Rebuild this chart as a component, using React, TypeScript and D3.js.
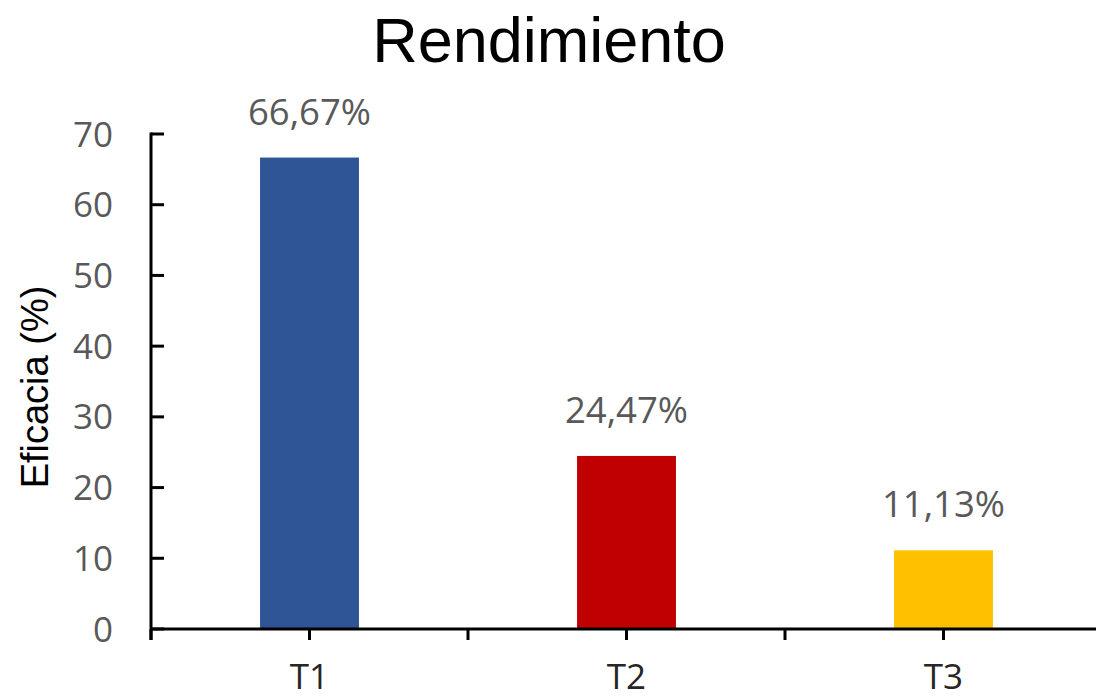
import React from "react";
import * as d3 from "d3";

const categories = ["T1", "T2", "T3"];
const values = [66.67, 24.47, 11.13];
const valueLabels = ["66,67%", "24,47%", "11,13%"];
const barColors = ["#2F5597", "#C00000", "#FFC000"];
const yTicks = [0, 10, 20, 30, 40, 50, 60, 70];

const W = 1096;
const H = 698;
const left = 151;
const right = 1102;
const bottom = 629;
const top = 134;

export default function App() {
  const x = d3.scaleBand<string>().domain(categories).range([left, right]).padding(0);
  const y = d3.scaleLinear().domain([0, 70]).range([bottom, top]);
  const bw = x.bandwidth() * 0.312;
  const boundaries = [left, ...categories.map((c) => (x(c) as number) + x.bandwidth())];
  const tickFont = "'Open Sans', 'DejaVu Sans', sans-serif";

  return (
    <svg
      width={W}
      height={H}
      style={{ position: "absolute", left: 0, top: 0, background: "#fff" }}
      viewBox={`0 0 ${W} ${H}`}
    >
      <rect x={0} y={0} width={W} height={H} fill="#fff" />
      <text
        x={549}
        y={62}
        textAnchor="middle"
        fontFamily="'Liberation Sans', Arial, sans-serif"
        fontSize={63}
        fill="#000"
      >
        Rendimiento
      </text>

      {/* bars */}
      {categories.map((c, i) => {
        const cx = (x(c) as number) + x.bandwidth() / 2;
        return (
          <g key={c}>
            <rect
              x={cx - bw / 2}
              y={y(values[i])}
              width={bw}
              height={bottom - y(values[i])}
              fill={barColors[i]}
            />
            <text
              x={cx}
              y={y(values[i]) - 33}
              textAnchor="middle"
              fontFamily={tickFont}
              fontSize={36.5}
              fill="#595959"
            >
              {valueLabels[i]}
            </text>
            <text
              x={cx}
              y={689}
              textAnchor="middle"
              fontFamily={tickFont}
              fontSize={35}
              fill="#262626"
            >
              {c}
            </text>
            <line x1={cx} x2={cx} y1={bottom} y2={bottom + 11} stroke="#000" strokeWidth={3} />
          </g>
        );
      })}

      {/* y axis */}
      <line x1={left} x2={left} y1={top - 1.5} y2={bottom + 11} stroke="#000" strokeWidth={3} />
      {yTicks.map((t) => (
        <g key={t}>
          <line x1={left} x2={left + 13} y1={y(t)} y2={y(t)} stroke="#000" strokeWidth={3} />
          <text
            x={113}
            y={y(t)}
            dy="0.36em"
            textAnchor="end"
            fontFamily={tickFont}
            fontSize={35}
            fill="#595959"
          >
            {t}
          </text>
        </g>
      ))}

      {/* x axis */}
      <line x1={left} x2={W} y1={bottom} y2={bottom} stroke="#000" strokeWidth={3} />
      {boundaries.map((b, i) => (
        <line key={i} x1={b} x2={b} y1={bottom} y2={bottom + 11} stroke="#000" strokeWidth={3} />
      ))}

      <text
        transform={`translate(48, 387) rotate(-90)`}
        textAnchor="middle"
        fontFamily="'Liberation Sans', Arial, sans-serif"
        fontSize={38}
        fill="#000"
      >
        Eficacia (%)
      </text>
    </svg>
  );
}
